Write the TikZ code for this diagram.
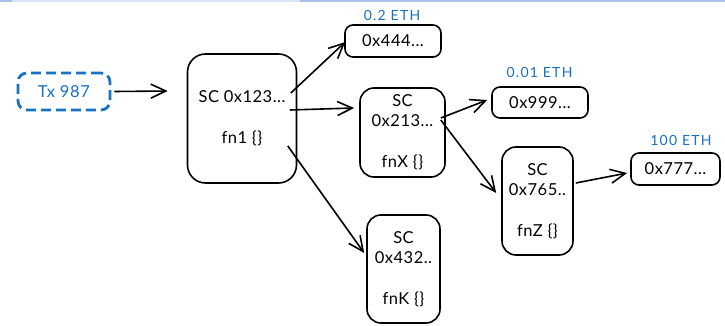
\documentclass[tikz,border=0pt]{standalone}
\usepackage{fontspec}
\setmainfont{Lato}
\usetikzlibrary{arrows.meta}
\definecolor{exblue}{HTML}{1971C2}
\definecolor{rulelight}{HTML}{DCE5F5}
\definecolor{ruledark}{HTML}{A9C1EA}

\begin{document}
\begin{tikzpicture}[x=1pt,y=-1pt,
  box/.style={draw=black, line width=1.6pt, rounded corners=#1, inner sep=0pt,
              align=center,
              font=\fontsize{16.5}{20}\selectfont\addfontfeature{LetterSpace=3}},
  box/.default=8pt,
  txbox/.style={draw=exblue, text=exblue, line width=2.8pt, rounded corners=9pt,
                dash pattern=on 10pt off 5pt, inner sep=0pt,
                minimum width=92pt, minimum height=37pt,
                font=\fontsize{16.5}{20}\selectfont\addfontfeature{LetterSpace=4}},
  amount/.style={text=exblue, inner sep=0pt,
                 font=\fontsize{14}{16}\selectfont\addfontfeature{LetterSpace=9}},
  arr/.style={line width=1.6pt,
              -{Straight Barb[length=15pt,width=14pt,line width=1.6pt]}}
]
\useasboundingbox (0,0) rectangle (725,326);

% faint rule along the top edge
\draw[ruledark, line width=1.5pt] (0,1) -- (12,1);
\draw[rulelight, line width=1.5pt] (12,1) -- (300,1);
\draw[ruledark, line width=1.5pt] (300,1) -- (725,1);

% transaction
\node[txbox] (tx) at (64,91.5) {Tx 987};

% contracts
\node[box=18pt, minimum width=109pt, minimum height=129pt] (sc1) at (242,118.5)
  {SC 0x123...\\[21pt]fn1 \{\}};
\node[box=14pt, minimum width=85pt, minimum height=89pt] (sc2) at (402.5,132.5)
  {SC\\0x213...\\[21pt]fnX \{\}};
\node[box=14pt, minimum width=71pt, minimum height=108pt] (sc3) at (537.5,201)
  {SC\\0x765..\\[21pt]fnZ \{\}};
\node[box=14pt, minimum width=73pt, minimum height=108pt] (sc4) at (403.5,269)
  {SC\\0x432..\\[21pt]fnK \{\}};

% receiving accounts
\node[box, minimum width=96pt, minimum height=32pt] (a444) at (393,41) {0x444...};
\node[box, minimum width=96pt, minimum height=31pt] (a999) at (540,102.5) {0x999...};
\node[box, minimum width=89pt, minimum height=32pt] (a777) at (675.5,169) {0x777...};

% transferred amounts
\node[amount] (v444) at (392,15) {0.2 ETH};
\node[amount] (v999) at (539.5,72) {0.01 ETH};
\node[amount] (v777) at (681,140) {100 ETH};

% call flow
\draw[arr] ([shift={(3,0)}]tx.east) -- ([shift={(-19,-27.5)}]sc1.west);
\draw[arr] ([shift={(-6.5,-25.5)}]sc1.east) -- ([shift={(1,1)}]a444.west);
\draw[arr] ([shift={(-7.5,-8.5)}]sc1.east) -- ([shift={(-5,-24.5)}]sc2.west);
\draw[arr] ([shift={(-9.5,27.5)}]sc1.east) -- ([shift={(-2,-16)}]sc4.west);
\draw[arr] ([shift={(-5,-14.5)}]sc2.east) -- ([shift={(-4,-2.5)}]a999.west);
\draw[arr] ([shift={(-5,-12.5)}]sc2.east) -- ([shift={(-5,-8)}]sc3.west);
\draw[arr] ([shift={(2,-18)}]sc3.east) -- ([shift={(-3,4)}]a777.west);
\end{tikzpicture}
\end{document}
